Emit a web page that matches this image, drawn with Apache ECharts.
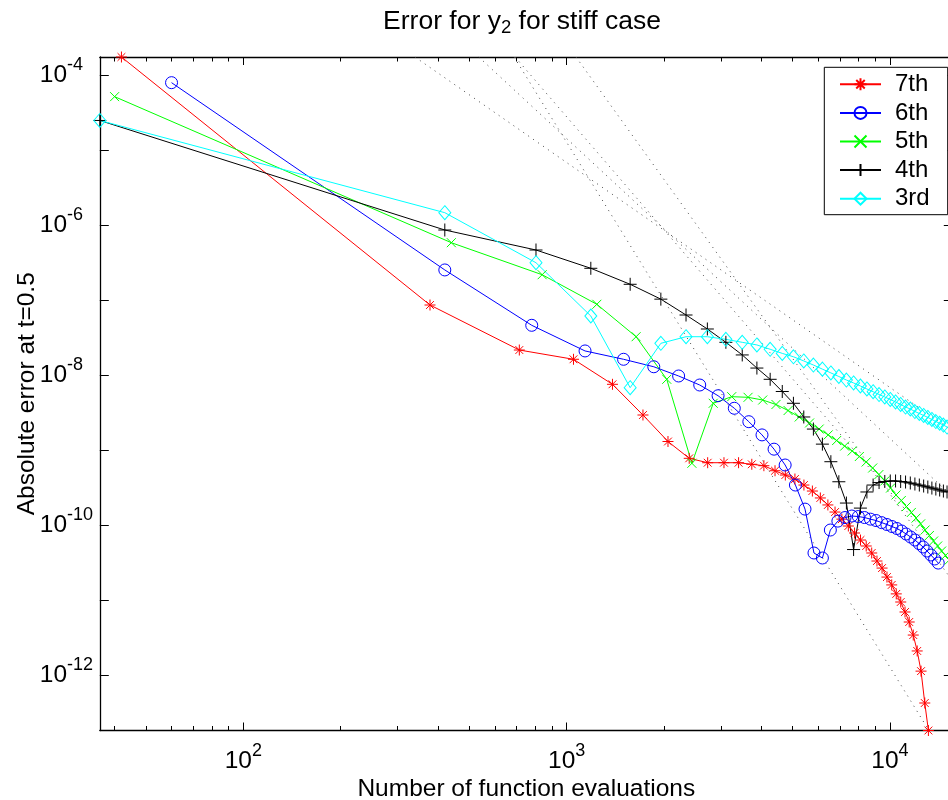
<!DOCTYPE html>
<html><head><meta charset="utf-8">
<script src="https://cdn.jsdelivr.net/npm/echarts@6/dist/echarts.min.js"></script>
<style>html,body{margin:0;padding:0;background:#fff}#c{width:948px;height:800px}</style>
</head><body><div id="c"></div>
<script>
const seriesNames = ['7th', '6th', '5th', '4th', '3rd'];

const x7 = [42,378,714,1050,1386,1722,2058,2394,2730,3066,3402,3738,4074,4410,4746,5082,5418,5754,6090,6426,6762,7098,7434,7770,8106,8442,8778,9114,9450,9786,10122,10458,10794,11130,11466,11802,12138,12474,12810,13146];
const y7 = [1.726e-4,8.52e-8,2.14e-8,1.61e-8,7.47e-9,2.91e-9,1.29e-9,7.70e-10,6.73e-10,6.73e-10,6.73e-10,6.41e-10,6.14e-10,5.26e-10,4.61e-10,4.08e-10,3.39e-10,2.82e-10,2.28e-10,1.84e-10,1.48e-10,1.19e-10,9.64e-11,7.78e-11,6.27e-11,5.22e-11,4.21e-11,3.29e-11,2.65e-11,2.01e-11,1.58e-11,1.20e-11,9.35e-12,6.88e-12,5.06e-12,3.39e-12,2.08e-12,1.12e-12,4.21e-13,1.81e-13];

const x6 = [60,420,780,1140,1500,1860,2220,2580,2940,3300,3660,4020,4380,4740,5100,5460,5820,6180,6540,6900,7260,7620,7980,8340,8700,9060,9420,9780,10140,10500,10860,11220,11580,11940,12300,12660,13020,13380,13740,14100];
const y6 = [7.85e-5,2.50e-7,4.57e-8,2.08e-8,1.61e-8,1.28e-8,9.64e-9,7.31e-9,5.26e-9,3.58e-9,2.37e-9,1.58e-9,1.02e-9,6.27e-10,3.39e-10,1.62e-10,4.21e-11,3.61e-11,8.52e-11,1.12e-10,1.25e-10,1.31e-10,1.29e-10,1.25e-10,1.19e-10,1.14e-10,1.07e-10,1.01e-10,9.49e-11,8.93e-11,8.27e-11,7.54e-11,6.88e-11,6.27e-11,5.63e-11,5.06e-11,4.47e-11,3.96e-11,3.50e-11,3.09e-11];

const x5 = [40,440,840,1240,1640,2040,2440,2840,3240,3640,4040,4440,4840,5240,5640,6040,6440,6840,7240,7640,8040,8440,8840,9240,9640,10040,10440,10840,11240,11640,12040,12440,12840,13240,13640,14040,14440,14840,15240,15640];
const y5 = [5.11e-5,5.77e-7,2.16e-7,8.71e-8,3.22e-8,8.71e-9,6.61e-10,4.17e-9,5.11e-9,5.01e-9,4.61e-9,4.02e-9,3.34e-9,2.74e-9,2.28e-9,1.89e-9,1.58e-9,1.33e-9,1.12e-9,9.64e-10,8.14e-10,6.88e-10,5.72e-10,4.68e-10,3.84e-10,3.09e-10,2.50e-10,2.11e-10,1.75e-10,1.46e-10,1.23e-10,1.03e-10,8.52e-11,7.20e-11,6.08e-11,5.22e-11,4.47e-11,3.90e-11,3.39e-11,2.95e-11];

const x4 = [36,420,804,1188,1572,1956,2340,2724,3108,3492,3876,4260,4644,5028,5412,5796,6180,6564,6948,7332,7716,8100,8484,8868,9252,9636,10020,10404,10788,11172,11556,11940,12324,12708,13092,13476,13860,14244,14628,15012];
const y4 = [2.46e-5,8.52e-7,4.61e-7,2.63e-7,1.61e-7,1.02e-7,6.27e-8,4.08e-8,2.71e-8,1.84e-8,1.23e-8,8.71e-9,5.99e-9,4.17e-9,2.74e-9,1.89e-9,1.19e-9,6.94e-10,3.75e-10,1.95e-10,4.68e-11,1.67e-10,2.74e-10,3.39e-10,3.66e-10,3.78e-10,3.84e-10,3.84e-10,3.78e-10,3.72e-10,3.61e-10,3.50e-10,3.39e-10,3.29e-10,3.19e-10,3.09e-10,3.00e-10,2.91e-10,2.82e-10,2.74e-10];

const x3 = [36,420,804,1188,1572,1956,2340,2724,3108,3492,3876,4260,4644,5028,5412,5796,6180,6564,6948,7332,7716,8100,8484,8868,9252,9636,10020,10404,10788,11172,11556,11940,12324,12708,13092,13476,13860,14244,14628,15012];
const y3 = [2.46e-5,1.45e-6,3.12e-7,6.08e-8,6.73e-9,2.63e-8,3.22e-8,3.22e-8,2.97e-8,2.71e-8,2.50e-8,2.19e-8,1.93e-8,1.74e-8,1.53e-8,1.35e-8,1.19e-8,1.06e-8,9.49e-9,8.52e-9,7.78e-9,7.09e-9,6.47e-9,5.95e-9,5.46e-9,5.06e-9,4.69e-9,4.34e-9,4.02e-9,3.72e-9,3.50e-9,3.24e-9,3.05e-9,2.87e-9,2.70e-9,2.54e-9,2.38e-9,2.26e-9,2.14e-9,2.01e-9];

// dotted reference slopes (order 3..7), endpoints
const ref3 = [[339.6, 1.726e-4], [15640, 1.77e-9]];
const ref4 = [[534.9, 1.726e-4], [15640, 2.36e-10]];
const ref5 = [[692.7, 1.726e-4], [15640, 2.94e-11]];
const ref6 = [[1069, 1.726e-4], [15640, 1.76e-11]];
const ref7 = [[688, 1.726e-4], [13195, 1.81e-13]];

const xMajorTicks = [100, 1000, 10000];
const xMinorTicks = [40,50,60,70,80,90,200,300,400,500,600,700,800,900,2000,3000,4000,5000,6000,7000,8000,9000];
const yTicks = [1e-4,1e-5,1e-6,1e-7,1e-8,1e-9,1e-10,1e-11,1e-12];
const yTickLabels = [1e-4,1e-6,1e-8,1e-10,1e-12];

const X_MIN = 36, X_MAX = 15640, Y_MIN = 1.81e-13, Y_MAX = 1.726e-4;
const FONT = "'Liberation Sans', Arial, Helvetica, sans-serif";

const rich = {
  b: {fontFamily: FONT, fontSize: 24.5, color: '#000'},
  s: {fontFamily: FONT, fontSize: 18, color: '#000', padding: [0, 0, 19, 0]}
};
function powLabel(v) {
  const e = Math.round(Math.log10(v));
  return '{b|10}{s|' + e + '}';
}

const axisLineStyle = {color: '#000', width: 1.3};
const tickStyle = {color: '#000', width: 1};

function xAx(pos, ticks, len, showLine, labels) {
  return {
    type: 'log', logBase: 10, position: pos, min: X_MIN, max: X_MAX,
    axisLine: {show: showLine, onZero: false, lineStyle: axisLineStyle},
    axisTick: {show: true, inside: true, length: len, customValues: ticks, lineStyle: tickStyle},
    axisLabel: labels ? {show: true, customValues: xMajorTicks, formatter: powLabel, rich: rich, margin: 12} : {show: false},
    splitLine: {show: false}, minorTick: {show: false}, minorSplitLine: {show: false}
  };
}
const xAxes = [
  xAx('bottom', xMajorTicks, 8, true, true),
  xAx('bottom', xMinorTicks, 4.5, false, false),
  xAx('top', xMajorTicks, 8, true, false),
  xAx('top', xMinorTicks, 4.5, false, false)
];
Object.assign(xAxes[0], {
  name: 'Number of function evaluations', nameLocation: 'middle', nameGap: 46, nameMoveOverlap: false,
  nameTextStyle: {fontFamily: FONT, fontSize: 24.5, color: '#000'}
});

function yAx(pos, labels) {
  return {
    type: 'log', logBase: 10, position: pos, min: Y_MIN, max: Y_MAX,
    axisLine: {show: true, onZero: false, lineStyle: axisLineStyle},
    axisTick: {show: true, inside: true, length: 9, customValues: yTicks, lineStyle: tickStyle},
    axisLabel: labels ? {show: true, customValues: yTickLabels, formatter: powLabel, rich: rich, margin: 60, align: 'left'} : {show: false},
    splitLine: {show: false}, minorTick: {show: false}, minorSplitLine: {show: false}
  };
}
const yAxes = [yAx('left', true), yAx('right', false)];
Object.assign(yAxes[0], {
  name: 'Absolute error at t=0.5', nameLocation: 'middle', nameGap: 60, nameRotate: 90, nameMoveOverlap: false,
  nameTextStyle: {fontFamily: FONT, fontSize: 24.5, color: '#000'}
});

function mk(name, xs, ys, color, symbol, size) {
  return {
    name: name, type: 'line', xAxisIndex: 0, yAxisIndex: 0,
    data: xs.map((x, i) => [x, ys[i]]),
    symbol: symbol, symbolSize: size, showSymbol: true, showAllSymbol: true,
    lineStyle: {color: color, width: 1},
    itemStyle: {color: 'rgba(0,0,0,0)', borderColor: color, borderWidth: 1},
    emphasis: {disabled: true}, z: 3
  };
}
function ref(data) {
  return {
    type: 'line', xAxisIndex: 0, yAxisIndex: 0, data: data, symbol: 'none', silent: true,
    lineStyle: {color: '#444', width: 1, type: [1, 5]}, emphasis: {disabled: true}, z: 1
  };
}

const SYM_AST = 'path://M0,-10L0,10M-10,0L10,0M-7.07,-7.07L7.07,7.07M-7.07,7.07L7.07,-7.07';
const SYM_X = 'path://M-10,-10L10,10M-10,10L10,-10';
const SYM_PLUS = 'path://M0,-10L0,10M-10,0L10,0';
const SYM_DIA = 'path://M0,-10L10,0L0,10L-10,0Z';

const chart = echarts.init(document.getElementById('c'), null, {renderer: 'canvas'});
chart.setOption({
  animation: false,
  backgroundColor: '#fff',
  title: {
    text: 'Error for y{sub|2} for stiff case', left: 517, top: 2, textAlign: 'center',
    textStyle: {fontFamily: FONT, fontSize: 26.5, fontWeight: 'normal', color: '#000',
      rich: {sub: {fontFamily: FONT, fontSize: 18.5, color: '#000', padding: [11, 0, 0, 0]}}}
  },
  grid: {left: 99.8, top: 57, width: 853, height: 673.5, containLabel: false, outerBoundsMode: 'none'},
  legend: {
    data: seriesNames, orient: 'vertical', left: 824.3, top: 67.3,
    padding: [5, 18, 4, 14.7], itemGap: 4.6, itemWidth: 41, itemHeight: 15,
    backgroundColor: '#fff', borderColor: '#000', borderWidth: 1, borderRadius: 0,
    selectedMode: false,
    textStyle: {fontFamily: FONT, fontSize: 24, color: '#000', lineHeight: 24, padding: [0, 0, 0, 9]}
  },
  xAxis: xAxes,
  yAxis: yAxes,
  series: [
    ref(ref3), ref(ref4), ref(ref5), ref(ref6), ref(ref7),
    mk(seriesNames[0], x7, y7, '#ff0000', SYM_AST, 11),
    mk(seriesNames[1], x6, y6, '#0000ff', 'circle', 12),
    mk(seriesNames[2], x5, y5, '#00ff00', SYM_X, 9),
    mk(seriesNames[3], x4, y4, '#000000', SYM_PLUS, 13),
    mk(seriesNames[4], x3, y3, '#00ffff', SYM_DIA, [12, 14])
  ]
});
</script>
</body></html>
